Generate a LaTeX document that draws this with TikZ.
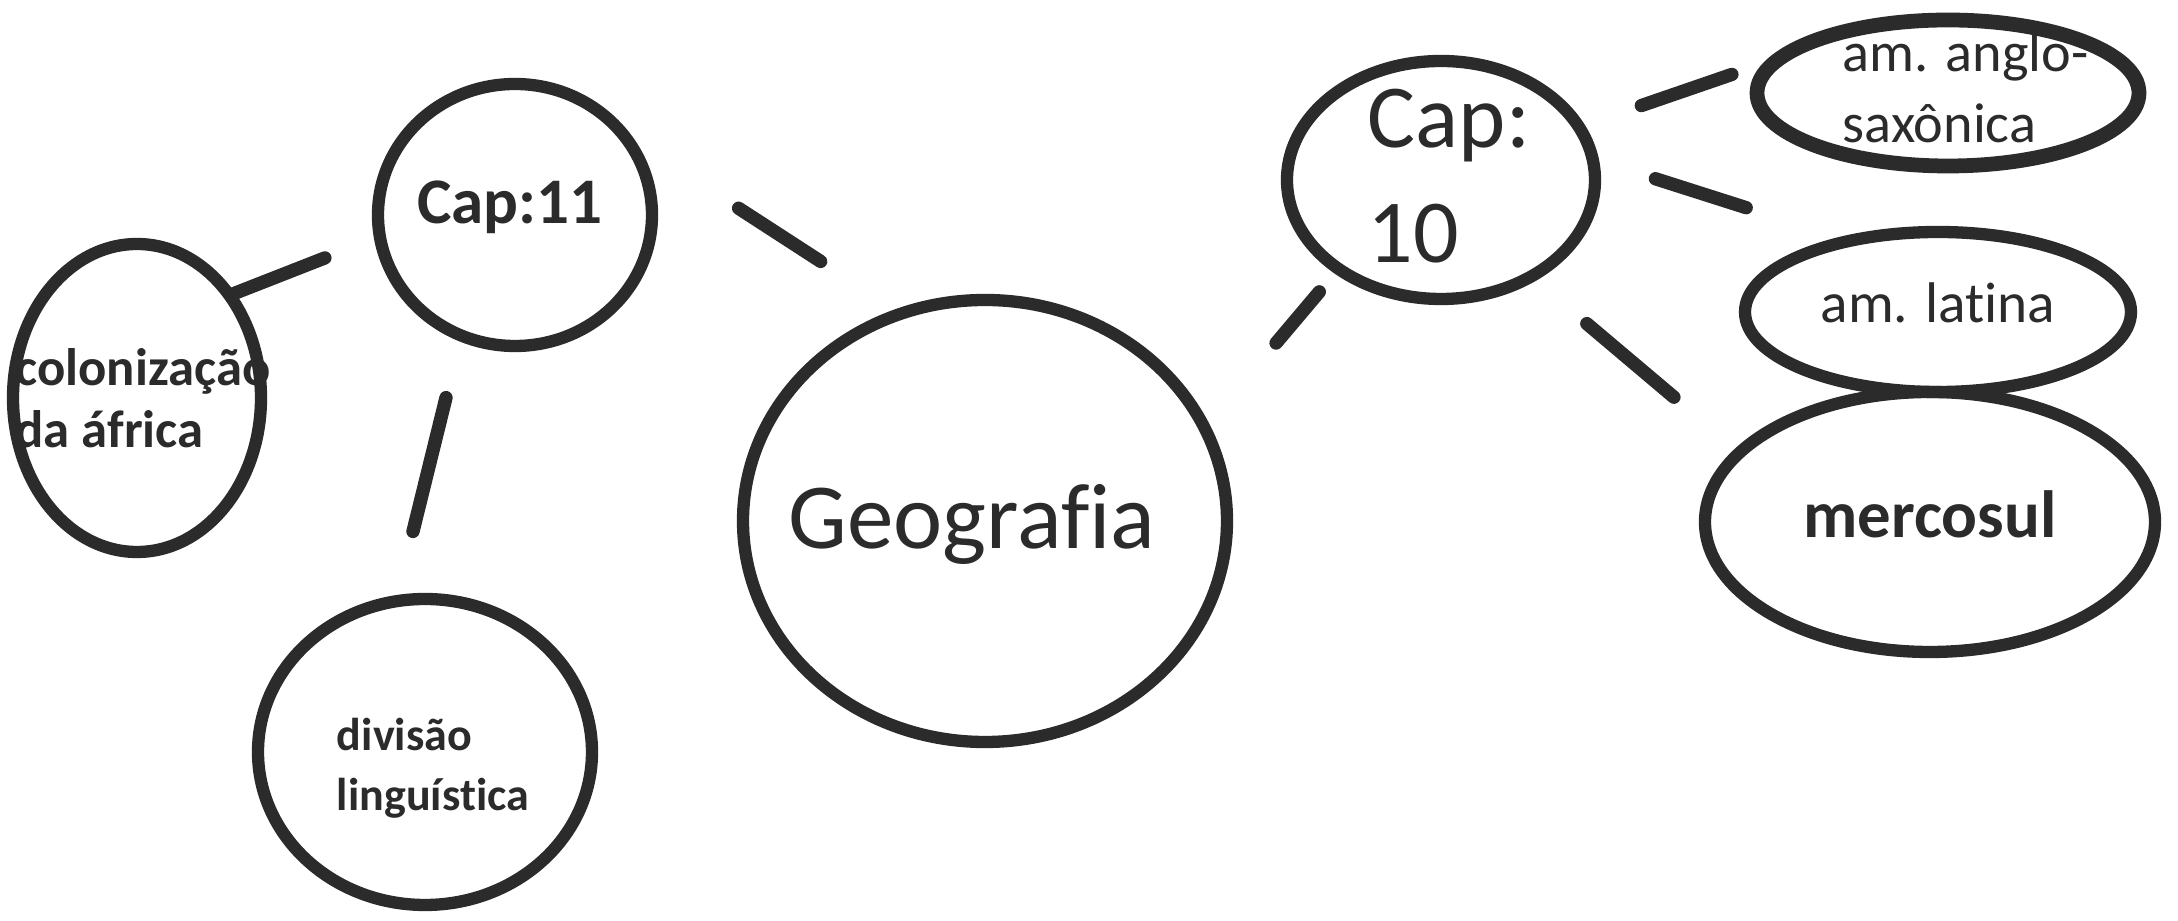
\documentclass[tikz,border=0pt]{standalone}
\usepackage{fontspec}
\setmainfont{Carlito}[Ligatures=NoCommon]
\usetikzlibrary{shapes.geometric}
\definecolor{ink}{HTML}{2B2B2B}

\begin{document}
\begin{tikzpicture}
	\tikzstyle{VertexStyle}=[draw=ink,ellipse,line width=3.5pt,inner sep=0pt,outer sep=0pt]
	\tikzstyle{LabelStyle}=[text=ink,inner sep=0pt,align=left]
	\tikzstyle{EdgeStyle}=[draw=ink,line width=3.8pt,line cap=round]
	\useasboundingbox (0,0) rectangle (21.78,9.21);
	% Cap 11
	\node[VertexStyle,minimum width=2.74cm,minimum height=2.62cm,
		label={[LabelStyle,font=\bfseries\fontsize{18.5}{22}\selectfont,xshift=-0.05cm,yshift=0.075cm]center:{Cap:11}}] (cap11) at (5.15,7.06) {};
	\node[VertexStyle,minimum width=2.48cm,minimum height=3.08cm,
		label={[LabelStyle,font=\bfseries\fontsize{15}{17.6}\selectfont,xshift=0.06cm]center:{colonização\\da áfrica}}] (colon) at (1.37,5.23) {};
	\node[VertexStyle,minimum width=3.34cm,minimum height=3.06cm,
		label={[LabelStyle,font=\bfseries\fontsize{13.1}{17.1}\selectfont,xshift=0.08cm,yshift=-0.165cm]center:{divisão\\linguística}}] (divisao) at (4.25,1.69) {};
	% centre
	\node[VertexStyle,minimum width=4.84cm,minimum height=4.42cm,
		label={[LabelStyle,font=\fontsize{26.5}{31}\selectfont,xshift=-0.13cm,yshift=-0.03cm]center:{Geografia}}] (geo) at (9.85,4.00) {};
	% Cap 10
	\node[VertexStyle,minimum width=3.08cm,minimum height=2.38cm,
		label={[LabelStyle,font=\fontsize{25.6}{32.7}\selectfont,xshift=0.08cm,yshift=0.035cm]center:{Cap:\\10}}] (cap10) at (14.41,7.41) {};
	\node[VertexStyle,line width=4.2pt,minimum width=3.82cm,minimum height=1.46cm,
		label={[LabelStyle,font=\fontsize{16}{20.2}\selectfont,xshift=0.175cm,yshift=0.05cm]center:{am. anglo-\\saxônica}}] (anglo) at (19.48,8.28) {};
	\node[VertexStyle,minimum width=3.86cm,minimum height=1.60cm,
		label={[LabelStyle,font=\fontsize{16.3}{19}\selectfont,yshift=0.09cm]center:{am. latina}}] (latina) at (19.38,6.09) {};
	\node[VertexStyle,minimum width=4.50cm,minimum height=2.60cm,
		label={[LabelStyle,font=\bfseries\fontsize{19}{23}\selectfont,yshift=0.075cm]center:{mercosul}}] (mercosul) at (19.30,3.99) {};
	% links
	\draw[EdgeStyle,shorten <=0.05cm,shorten >=0.59cm] (colon.48) -- (cap11.189);
	\draw[EdgeStyle,shorten <=0.64cm,shorten >=0.72cm] (cap11.246) -- (divisao.101);
	\draw[EdgeStyle,shorten <=1.40cm,shorten >=0.96cm] (cap11.38) -- (geo.112);
	\draw[EdgeStyle,shorten <=1.11cm,shorten >=0.30cm] (geo.23) -- (cap10.221);
	\draw[EdgeStyle,shorten <=0.66cm,shorten >=0.52cm] (cap10.21) -- (anglo.168);
	\draw[EdgeStyle,shorten <=0.66cm,shorten >=1.09cm] (cap10.8) -- (latina.141);
	\draw[EdgeStyle,shorten <=0.73cm,shorten >=0.86cm] (cap10.313) -- (mercosul.160);
\end{tikzpicture}
\end{document}
